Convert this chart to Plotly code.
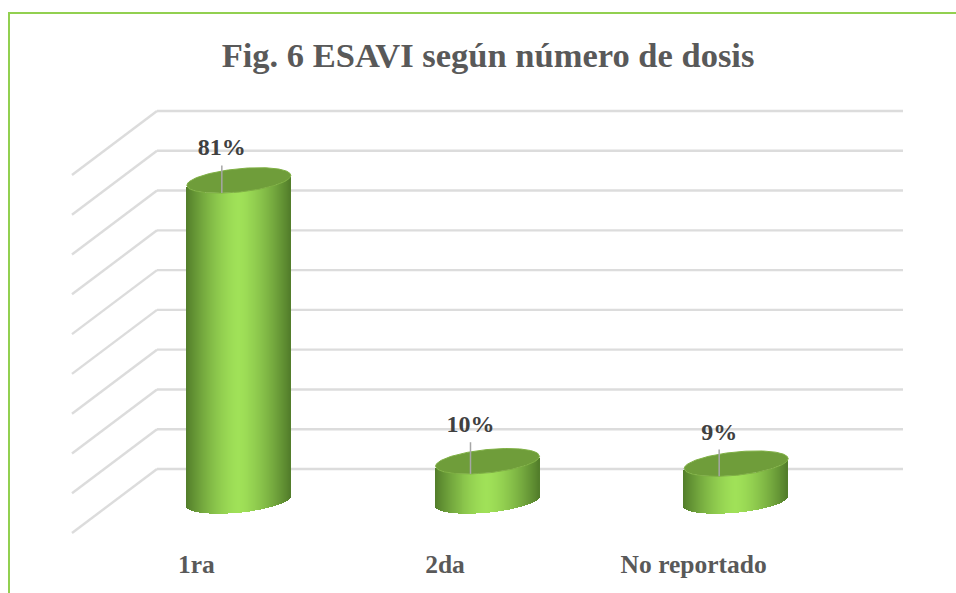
import plotly.graph_objects as go

categories = ["1ra", "2da", "No reportado"]
values = [80.6, 10.0, 9.4]
title_text = "Fig. 6 ESAVI según número de dosis"
grid_values = [0, 10, 20, 30, 40, 50, 60, 70, 80, 90]
label_lift_px = [31, 35, 30]

W, H = 956, 593
WALL_L, WALL_R, GRID_TOP, GRID_BOT = 157, 903, 111, 469
PX_X = (WALL_R - WALL_L) / 3
PX_Y = (GRID_BOT - GRID_TOP) / 90
DEPTH_X = -85 / PX_X
DEPTH_Y = -64 / PX_Y
HALF_W = 52 / PX_X
TILT = 5 / PX_Y
MINOR = 11.7 / PX_Y
LEADER_DX = -17 / PX_X
N = 105
DARK, LIGHT = (82, 125, 42), (160, 225, 88)
GRID = dict(color="#DCDCDC", width=2.4)


def lower(u):
    return TILT * u - MINOR * (1 - u * u) ** 0.5


def upper(u):
    return TILT * u + MINOR * (1 - u * u) ** 0.5


def shade(u):
    t = 1 - abs(u) ** 1.5
    return "rgb(%d,%d,%d)" % tuple(round(d + (l - d) * t) for d, l in zip(DARK, LIGHT))


fig = go.Figure()
shapes = []

# back and side wall gridlines
for g in grid_values:
    shapes.append(dict(type="line", xref="x", yref="y", layer="below",
                       x0=-0.5, x1=2.5, y0=g, y1=g, line=GRID))
    shapes.append(dict(type="line", xref="x", yref="y", layer="below",
                       x0=-0.5, x1=-0.5 + DEPTH_X, y0=g, y1=g + DEPTH_Y, line=GRID))

# frame
shapes.append(dict(type="line", xref="paper", yref="paper", x0=9 / W, x1=9 / W, y0=0, y1=1 - 13 / H,
                   line=dict(color="#92D050", width=2)))
shapes.append(dict(type="line", xref="paper", yref="paper", x0=8 / W, x1=1, y0=1 - 13 / H, y1=1 - 13 / H,
                   line=dict(color="#92D050", width=2)))

base = DEPTH_Y / 2
for i, (cat, v) in enumerate(zip(categories, values)):
    cx = i + DEPTH_X / 2
    us = [-1 + (2 * k + 1) / N for k in range(N)]
    # cylinder body, one thin bar per shading step
    fig.add_trace(go.Bar(
        x=[cx + u * HALF_W for u in us],
        y=[v] * N,
        base=[base + lower(u) for u in us],
        width=[2 * HALF_W / N * 1.5] * N,
        marker=dict(color=[shade(u) for u in us], line=dict(width=0)),
        name=cat, showlegend=False, hoverinfo="skip",
    ))
    # top ellipse
    ring = [-1 + 2 * k / N for k in range(N + 1)]
    ex = [cx + u * HALF_W for u in ring] + [cx + u * HALF_W for u in reversed(ring)]
    ey = [base + v + lower(u) for u in ring] + [base + v + upper(u) for u in reversed(ring)]
    fig.add_trace(go.Scatter(x=ex, y=ey, mode="lines", fill="toself", fillcolor="#6F9D3A",
                             line=dict(color="#7FB044", width=1),
                             hoverinfo="skip", showlegend=False))
    # leader line and value label
    lx = cx + LEADER_DX
    u0 = LEADER_DX / HALF_W
    top = base + v
    lift = label_lift_px[i] / PX_Y
    fig.add_trace(go.Scatter(x=[lx, lx], y=[top + lower(u0), top + lift - 16 / PX_Y], mode="lines",
                             line=dict(color="#A6A6A6", width=1.5),
                             hoverinfo="skip", showlegend=False))
    fig.add_trace(go.Scatter(x=[lx], y=[top + lift], mode="text", text=[f"{v:.0f}%"],
                             textposition="middle center",
                             textfont=dict(family="Liberation Serif", size=24, color="#404040",
                                           weight="bold"),
                             hoverinfo="skip", showlegend=False))

fig.update_layout(
    width=W, height=H, margin=dict(l=0, r=0, t=0, b=0), autosize=False,
    paper_bgcolor="white", plot_bgcolor="white", barmode="overlay", bargap=0, showlegend=False,
    hovermode=False,
    title=dict(text=f"<b>{title_text}</b>", x=488 / W, xanchor="center", y=1 - 55 / H, yanchor="middle",
               font=dict(family="Liberation Serif", size=34.5, color="#595959")),
    xaxis=dict(domain=[0, 1], range=[-0.5 - WALL_L / PX_X, 2.5 + (W - WALL_R) / PX_X],
               anchor="free", position=1 - 533 / H, tickmode="array",
               tickvals=[i + DEPTH_X for i in range(3)], ticktext=[f"<b>{c}</b>" for c in categories],
               showgrid=False, zeroline=False, showline=False, ticks="", ticklabelstandoff=13,
               tickfont=dict(family="Liberation Serif", size=25.5, color="#595959")),
    yaxis=dict(domain=[0, 1], range=[-(H - GRID_BOT) / PX_Y, 90 + GRID_TOP / PX_Y],
               showticklabels=False, showgrid=False, zeroline=False, showline=False, ticks=""),
    shapes=shapes,
)

fig.write_html("out.html", config={"displayModeBar": False},
               post_script="document.body.style.margin='0';document.body.style.overflow='hidden';")
